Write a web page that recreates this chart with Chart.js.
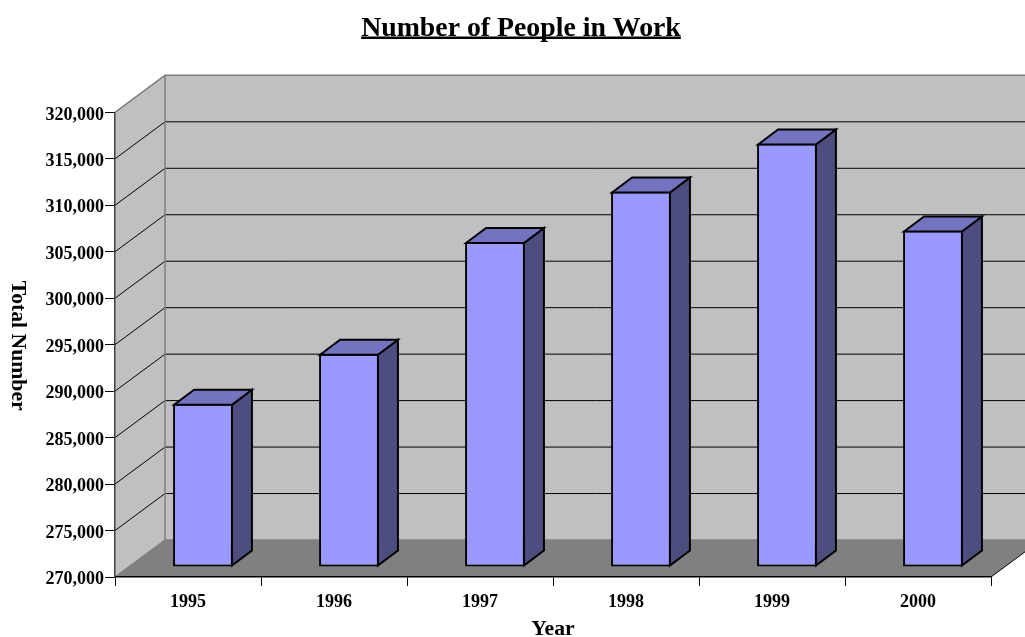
<!DOCTYPE html>
<html>
<head>
<meta charset="utf-8">
<style>
  html, body { margin: 0; padding: 0; background: #fff; overflow: hidden; }
  canvas { display: block; }
</style>
<script src="https://cdn.jsdelivr.net/npm/chart.js@4"></script>
</head>
<body>
<canvas id="chart" width="1025" height="637"></canvas>
<script>
const years = ['1995', '1996', '1997', '1998', '1999', '2000'];
const totals = [287565, 292950, 304970, 310410, 315580, 306210];

const chartTitle = 'Number of People in Work';
const xTitle = 'Year';
const yTitle = 'Total Number';
const yMin = 270000;
const yMax = 320000;

const serif = '"Liberation Serif", "Times New Roman", serif';

// depth of the fake 3d box and of the bars
const WALL_DX = 50, WALL_DY = -37;
const BAR_SHIFT_X = 15, BAR_SHIFT_Y = -10;
const BAR_DX = 20, BAR_DY = -15;

function poly(ctx, pts, fill, stroke, lw) {
    ctx.beginPath();
    pts.forEach((p, i) => i ? ctx.lineTo(p[0], p[1]) : ctx.moveTo(p[0], p[1]));
    ctx.closePath();
    if (fill) { ctx.fillStyle = fill; ctx.fill(); }
    if (stroke) { ctx.strokeStyle = stroke; ctx.lineWidth = lw; ctx.lineJoin = 'miter'; ctx.stroke(); }
}

const box3d = {
    id: 'box3d',
    afterLayout(chart) {
        // title is centred a little right of the canvas middle
        chart.titleBlock.left = 0;
        chart.titleBlock.right = 1042;
    },
    beforeDraw(chart) {
        const { ctx } = chart;
        const x = chart.scales.x, y = chart.scales.y;
        const l = x.left, r = x.right, t = y.top, b = y.bottom;
        const dx = WALL_DX, dy = WALL_DY;
        ctx.save();
        ctx.fillStyle = '#fff';
        ctx.fillRect(0, 0, chart.width, chart.height);
        // floor, back wall, side wall
        poly(ctx, [[l, b], [l + dx, b + dy], [r + dx, b + dy], [r, b]], '#808080');
        poly(ctx, [[l + dx, t + dy], [r + dx, t + dy], [r + dx, b + dy], [l + dx, b + dy]], '#c0c0c0');
        poly(ctx, [[l, t], [l + dx, t + dy], [l + dx, b + dy], [l, b]], '#c0c0c0');
        // gridlines on both walls
        ctx.strokeStyle = '#000';
        ctx.lineWidth = 1;
        y.ticks.forEach(tk => {
            if (tk.value === y.min || tk.value === y.max) return;
            const py = y.getPixelForValue(tk.value);
            ctx.beginPath();
            ctx.moveTo(l, py);
            ctx.lineTo(l + dx, py + dy);
            ctx.lineTo(r + dx, py + dy);
            ctx.stroke();
        });
        // wall edges
        ctx.strokeStyle = '#808080';
        ctx.lineWidth = 1.5;
        ctx.beginPath();
        ctx.moveTo(l, t);
        ctx.lineTo(l + dx, t + dy);
        ctx.lineTo(r + dx, t + dy);
        ctx.moveTo(l + dx, t + dy);
        ctx.lineTo(l + dx, b + dy);
        ctx.lineTo(l, b);
        ctx.moveTo(l + dx, b + dy);
        ctx.lineTo(r + dx, b + dy);
        ctx.stroke();
        // front right edge of floor
        ctx.strokeStyle = '#000';
        ctx.lineWidth = 1;
        ctx.beginPath();
        ctx.moveTo(r, b);
        ctx.lineTo(r + dx, b + dy);
        ctx.stroke();
        ctx.restore();
    },
    beforeDatasetDraw(chart) {
        chart.ctx.save();
        chart.ctx.translate(BAR_SHIFT_X, BAR_SHIFT_Y);
    },
    afterDatasetDraw(chart, args) {
        const { ctx } = chart;
        args.meta.data.forEach(bar => {
            const p = bar.getProps(['x', 'y', 'base', 'width'], true);
            const l = p.x - p.width / 2 + 1, r = p.x + p.width / 2 - 1;
            const top = p.y + 1, bot = p.base - 1;
            poly(ctx, [[r, top], [r + BAR_DX, top + BAR_DY], [r + BAR_DX, bot + BAR_DY], [r, bot]], '#4d4d80', '#000', 2);
            poly(ctx, [[l, top], [l + BAR_DX, top + BAR_DY], [r + BAR_DX, top + BAR_DY], [r, top]], '#7373bf', '#000', 2);
        });
        ctx.restore();
    },
    afterDraw(chart) {
        const { ctx } = chart;
        const tb = chart.titleBlock;
        const f = chart.options.plugins.title.font;
        const y = chart.scales.y;
        ctx.save();
        // Chart.js titles have no underline option
        ctx.font = 'bold ' + f.size + 'px ' + f.family;
        const w = ctx.measureText(chartTitle).width;
        const cx = (tb.left + tb.right) / 2;
        ctx.fillStyle = '#000';
        ctx.fillRect(cx - w / 2, 36.5, w, 2.5);
        // scale title can only rotate the other way, this one reads downwards
        ctx.font = 'bold 21.7px ' + serif;
        ctx.textAlign = 'center';
        ctx.textBaseline = 'middle';
        ctx.translate(18, (y.top + y.bottom) / 2 + 1);
        ctx.rotate(Math.PI / 2);
        ctx.fillText(yTitle, 0, 0);
        ctx.restore();
    }
};

new Chart(document.getElementById('chart'), {
    type: 'bar',
    data: {
        labels: years,
        datasets: [{
            data: totals,
            base: yMin,
            backgroundColor: '#9999ff',
            borderColor: '#000',
            borderWidth: 2,
            borderSkipped: false,
            barPercentage: 0.41,
            categoryPercentage: 1,
            clip: false
        }]
    },
    plugins: [box3d],
    options: {
        responsive: false,
        animation: false,
        layout: { padding: { top: 0, right: 34, bottom: 0, left: 0 } },
        plugins: {
            legend: { display: false },
            tooltip: { enabled: false },
            title: {
                display: true,
                text: chartTitle,
                color: '#000',
                font: { family: serif, size: 27.8, weight: 'bold' },
                padding: { top: 12, bottom: 67 }
            }
        },
        scales: {
            x: {
                offset: true,
                afterFit: s => { s.height = 60; },
                grid: { offset: true, drawOnChartArea: false, color: '#000', tickLength: 9, tickColor: '#000' },
                border: { color: '#000', width: 1.5 },
                ticks: { color: '#000', font: { family: serif, size: 18, weight: 'bold' }, padding: 6, maxRotation: 0 },
                title: { display: true, text: xTitle, color: '#000', font: { family: serif, size: 21.7, weight: 'bold' }, padding: { top: 0, bottom: -5 } }
            },
            y: {
                min: yMin,
                max: yMax,
                afterFit: s => { s.width = 115; },
                grid: { drawOnChartArea: false, color: '#000', tickLength: 10, tickColor: '#000' },
                border: { color: '#404040', width: 1.5 },
                ticks: {
                    stepSize: 5000,
                    color: '#000',
                    padding: 1,
                    labelOffset: 2.5,
                    font: { family: serif, size: 18, weight: 'bold' },
                    callback: v => v.toLocaleString('en-US')
                }
            }
        }
    }
});
</script>
</body>
</html>
